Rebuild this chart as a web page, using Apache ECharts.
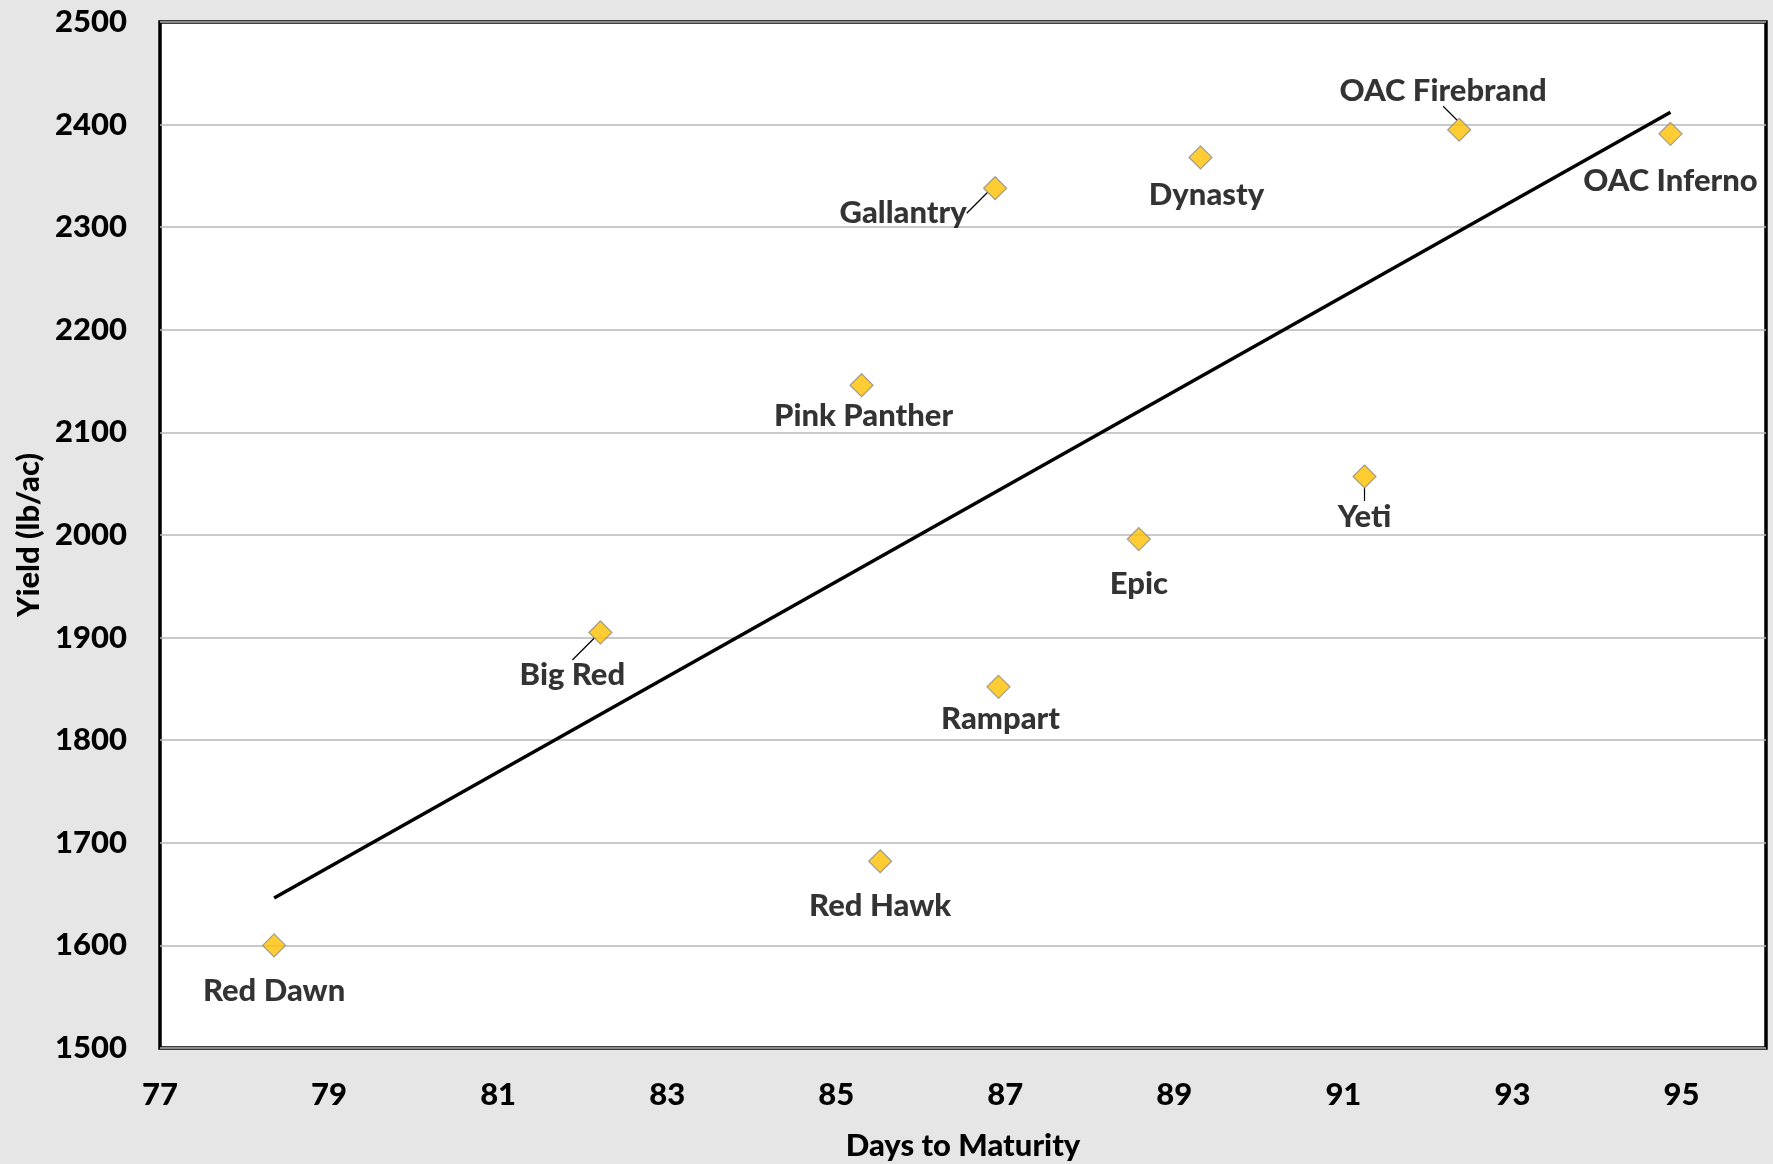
<!DOCTYPE html>
<html>
<head>
<meta charset="utf-8">
<script src="https://cdn.jsdelivr.net/npm/echarts@6/dist/echarts.min.js"></script>
<style>
html,body{margin:0;padding:0;background:#e6e6e6;}
#chart{width:1773px;height:1164px;}
</style>
</head>
<body>
<div id="chart"></div>
<script>
const varieties = ['Red Dawn','Big Red','Red Hawk','Pink Panther','Gallantry','Rampart','Epic','Dynasty','Yeti','OAC Firebrand','OAC Inferno'];
const daysToMaturity = [78.35, 82.21, 85.52, 85.30, 86.88, 86.92, 88.58, 89.31, 91.25, 92.37, 94.87];
const yieldLbAc = [1600, 1905, 1682, 2146, 2338, 1852, 1996, 2368, 2057, 2395, 2391];
const xTickMin = 77, xTickMax = 96;
const yTickMin = 1500, yTickMax = 2500, yTickStep = 100;

// label placement (pixels) relative to each marker
const labelOffsets = {
  'Red Dawn':[0,46], 'Big Red':[-28,43], 'Red Hawk':[0,45], 'Pink Panther':[2,31],
  'Gallantry':[-92,25], 'Rampart':[2,32], 'Epic':[0,45], 'Dynasty':[6,38],
  'Yeti':[0,40], 'OAC Firebrand':[-16,-39], 'OAC Inferno':[0,47]
};
const leaderLines = {'Big Red':true,'Gallantry':true,'Yeti':true,'OAC Firebrand':true};

// least-squares trendline from data
const n = daysToMaturity.length;
const mx = daysToMaturity.reduce((a,b)=>a+b,0)/n;
const my = yieldLbAc.reduce((a,b)=>a+b,0)/n;
let sxy=0, sxx=0;
for (let i=0;i<n;i++){ sxy += (daysToMaturity[i]-mx)*(yieldLbAc[i]-my); sxx += (daysToMaturity[i]-mx)**2; }
const slope = sxy/sxx, icpt = my - slope*mx;
const xLo = Math.min(...daysToMaturity), xHi = Math.max(...daysToMaturity);
const trend = [[xLo, icpt+slope*xLo],[xHi, icpt+slope*xHi]];

const FONT = 'Lato';
const FS = 31;
const FW = 900;
const chart = echarts.init(document.getElementById('chart'));
chart.setOption({
  backgroundColor: '#e6e6e6',
  animation: false,
  textStyle: {fontFamily: FONT},
  grid: {left:160, top:22, right:7, bottom:116, outerBoundsMode:'none', containLabel:false,
    show:true, backgroundColor:'#ffffff', borderColor:'#000000', borderWidth:3.5},
  xAxis: {
    type:'value', min:xTickMin, max:xTickMax, interval:1,
    name:'Days to Maturity', nameLocation:'middle', nameGap:82,
    nameTextStyle:{fontFamily:FONT, fontWeight:FW, fontSize:FS, color:'#000'},
    axisLine:{show:false}, axisTick:{show:false}, splitLine:{show:false},
    axisLabel:{fontFamily:FONT, fontWeight:FW, fontSize:FS, color:'#000', margin:31,
      formatter: v => (Math.round(v) % 2 === 1 ? String(v) : '')}
  },
  yAxis: {
    type:'value', min:yTickMin, max:yTickMax, interval:yTickStep,
    name:'Yield (lb/ac)', nameLocation:'middle', nameGap:114, nameRotate:90,
    nameTextStyle:{fontFamily:FONT, fontWeight:FW, fontSize:FS, color:'#000'},
    axisLine:{show:false}, axisTick:{show:false},
    splitLine:{show:true, lineStyle:{color:'#b8b8b8', width:1.5}},
    axisLabel:{fontFamily:FONT, fontWeight:FW, fontSize:FS, color:'#000', margin:33,
      formatter: v => String(v)}
  },
  series: [
    {
      type:'line', data:trend, symbol:'none', silent:true,
      lineStyle:{color:'#000', width:3.5}, z:2
    },
    {
      type:'scatter', symbol:'diamond', symbolSize:23, z:3,
      itemStyle:{color:'#FFC000', borderColor:'#8a8a8a', borderWidth:1.2},
      data: varieties.map((nm,i)=>({name:nm, value:[daysToMaturity[i], yieldLbAc[i]],
        labelLine:{show:!!leaderLines[nm], lineStyle:{color:'#000', width:1.2}}})),
      label:{show:true, position:'inside', formatter: p => p.name,
        fontFamily:FONT, fontWeight:FW, fontSize:FS, color:'#000',
        textBorderWidth:0, textBorderColor:'transparent'},
      labelLine:{show:false},
      labelLayout: function(params){
        const nm = varieties[params.dataIndex];
        const o = labelOffsets[nm] || [0,0];
        return {dx:o[0], dy:o[1]};
      }
    }
  ]
});
</script>
</body>
</html>
